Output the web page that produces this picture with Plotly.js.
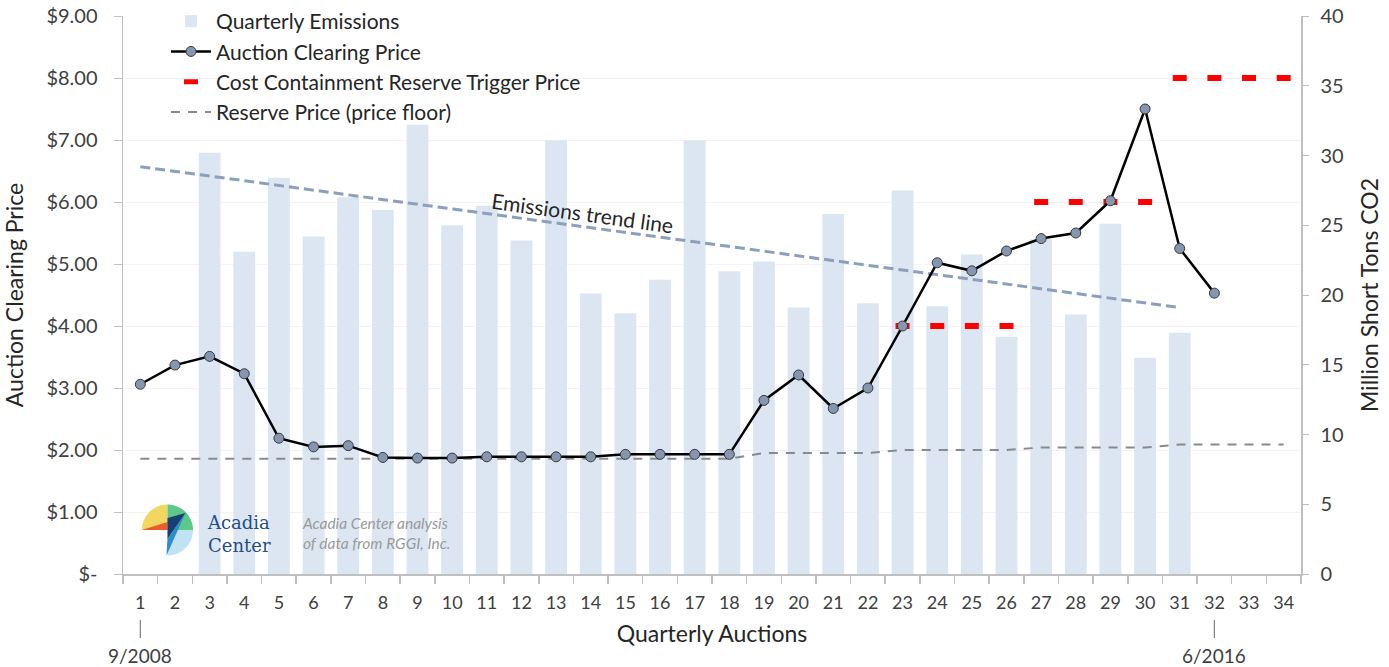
<!DOCTYPE html>
<html><head><meta charset="utf-8">
<script src="https://cdn.plot.ly/plotly-3.0.1.min.js"></script>
<style>html,body{margin:0;padding:0;background:#fff}#chart{width:1389px;height:667px}</style>
</head><body><div id="chart"></div>
<script>
// ---------------- data ----------------
const auctionNums = [1,2,3,4,5,6,7,8,9,10,11,12,13,14,15,16,17,18,19,20,21,22,23,24,25,26,27,28,29,30,31,32,33,34];
const auctionLabels = ['1','2','3','4','5','6','7','8','9','10','11','12','13','14','15','16','17','18','19','20','21','22','23','24','25','26','27','28','29','30','31','32','33','34'];

const emissionAuctions = [3,4,5,6,7,8,9,10,11,12,13,14,15,16,17,18,19,20,21,22,23,24,25,26,27,28,29,30,31];
const emissionsMt = [30.2,23.1,28.4,24.2,27.0,26.1,32.2,25.0,26.4,23.9,31.1,20.1,18.7,21.1,31.1,21.7,22.4,19.1,25.8,19.4,27.5,19.2,22.9,17.0,24.0,18.6,25.1,15.5,17.3];

const priceAuctions = [1,2,3,4,5,6,7,8,9,10,11,12,13,14,15,16,17,18,19,20,21,22,23,24,25,26,27,28,29,30,31,32];
const clearingPrice = [3.06,3.37,3.51,3.23,2.19,2.05,2.07,1.88,1.87,1.87,1.89,1.89,1.89,1.89,1.93,1.93,1.93,1.93,2.80,3.21,2.67,3.00,4.00,5.02,4.89,5.21,5.41,5.50,6.02,7.50,5.25,4.53];

const floorAuctions = [1,2,3,4,5,6,7,8,9,10,11,12,13,14,15,16,17,18,19,20,21,22,23,24,25,26,27,28,29,30,31,32,33,34];
const reservePrice = [1.86,1.86,1.86,1.86,1.86,1.86,1.86,1.86,1.86,1.86,1.86,1.86,1.86,1.86,1.86,1.86,1.86,1.86,1.95,1.95,1.95,1.95,2.00,2.00,2.00,2.00,2.04,2.04,2.04,2.04,2.09,2.09,2.09,2.09];

const ccrAuctions = [23,24,25,26,27,28,29,30,31,32,33,34];
const ccrTrigger = [4,4,4,4,6,6,6,6,8,8,8,8];

const trendAuctions = [1,31];
const trendMt = [29.2,19.1];

const priceTickVals = [0,1,2,3,4,5,6,7,8,9];
const priceTickText = ['$-','$1.00','$2.00','$3.00','$4.00','$5.00','$6.00','$7.00','$8.00','$9.00'];
const tonTickVals = [0,5,10,15,20,25,30,35,40];

// ---------------- style ----------------
const FONT = 'Lato, "Open Sans", "DejaVu Sans", sans-serif';
const AXIS = '#bfbfbf';
const TXT = '#404040';
const PL = 123, PR = 1301, PT = 16, PB = 574;   // plot area in pixels
const PW = PR - PL, PH = PB - PT;
const px = v => (v - PL) / PW;
const py = v => (PB - v) / PH;

const traces = [
  {type:'bar', name:'Quarterly Emissions', x:emissionAuctions, y:emissionsMt, yaxis:'y',
   width:0.63, marker:{color:'#dce6f2', line:{width:0}}, legendrank:1, legendgroup:'a'},
  {type:'scatter', mode:'lines', name:'Emissions trend', x:trendAuctions, y:trendMt, yaxis:'y',
   line:{color:'#8c9fbb', width:3, dash:'10px,5px'}, showlegend:false, legendgroup:'t'},
  {type:'scatter', mode:'lines', name:'Reserve Price (price floor)', x:floorAuctions, y:reservePrice, yaxis:'y2',
   line:{color:'#8a8a8a', width:2, dash:'9px,8px'}, legendrank:4, legendgroup:'d'},
  {type:'scatter', mode:'markers', name:'Cost Containment Reserve Trigger Price', x:ccrAuctions, y:ccrTrigger, yaxis:'y2',
   marker:{symbol:'line-ew', size:10, line:{color:'#ff0000', width:6}}, legendrank:3, legendgroup:'c'},
  {type:'scatter', mode:'lines+markers', name:'Auction Clearing Price', x:priceAuctions, y:clearingPrice, yaxis:'y2',
   line:{color:'#000000', width:2.5}, marker:{symbol:'circle', size:10, color:'#8496b0', line:{color:'#3a3a3a', width:1}}, legendrank:2, legendgroup:'b'}
];

// logo geometry (pixel offsets from its centre, y up)
function sector(a0, a1, r){
  let s = 'M0,0';
  const n = 28;
  for(let i=0;i<=n;i++){
    const a = (a0 + (a1-a0)*i/n)*Math.PI/180;
    s += ' L'+(r*Math.cos(a)).toFixed(2)+','+(r*Math.sin(a)).toFixed(2);
  }
  return s+' Z';
}
const R = 25.5;
const logoAnchor = {xref:'paper', yref:'paper', xsizemode:'pixel', ysizemode:'pixel', xanchor:px(167.5), yanchor:py(530), line:{width:0}, layer:'above'};
const logoShapes = [
  Object.assign({type:'path', path:sector(90,180,R), fillcolor:'#f2d660'}, logoAnchor),
  Object.assign({type:'path', path:sector(0,90,R), fillcolor:'#5cc98a'}, logoAnchor),
  Object.assign({type:'path', path:sector(-90,0,R), fillcolor:'#bfe2f4'}, logoAnchor),
  Object.assign({type:'path', path:'M-25.5,0 L0,8 L0,0 Z', fillcolor:'#ee5b2b'}, logoAnchor),
  Object.assign({type:'path', path:'M0,12 L18,17 L0,-9 Z', fillcolor:'#173f72'}, logoAnchor),
  Object.assign({type:'path', path:'M0,-9 L18,17 L-1,-25.5 Z', fillcolor:'#2c8ccc'}, logoAnchor)
];

const layout = {
  width:1389, height:667,
  margin:{l:PL, r:1389-PR, t:PT, b:667-PB, autoexpand:false},
  paper_bgcolor:'#ffffff', plot_bgcolor:'#ffffff',
  font:{family:FONT, color:TXT, size:18},
  showlegend:true,
  legend:{x:px(166), y:py(1), xanchor:'left', yanchor:'top', bgcolor:'rgba(0,0,0,0)',
          font:{size:21, color:'#262626'}, itemwidth:40, traceorder:'grouped', tracegroupgap:0},
  xaxis:{range:[0.5,34.5], tickmode:'array', tickvals:auctionNums, ticktext:auctionLabels, ticks:'',
         showline:true, linecolor:AXIS, linewidth:1.5, showgrid:false, zeroline:false,
         tickfont:{size:18, color:TXT}, ticklabelstandoff:12,
         minor:{tickmode:'array', tickvals:auctionNums.map(n=>n-0.5).concat([34.5]), ticks:'outside', ticklen:8, tickcolor:AXIS, tickwidth:1.5, showgrid:false},
         title:{text:'Quarterly Auctions', font:{size:23, color:'#262626'}, standoff:14}},
  yaxis:{side:'right', range:[0,40], tickmode:'array', tickvals:tonTickVals, ticks:'outside', ticklen:6, tickcolor:AXIS,
         showline:true, linecolor:AXIS, linewidth:1.5, showgrid:false, zeroline:false,
         tickfont:{size:20, color:TXT}, ticklabelstandoff:8,
         title:{text:'Million Short Tons CO2', font:{size:23, color:'#262626'}, standoff:19}},
  yaxis2:{overlaying:'y', side:'left', range:[0,9], tickmode:'array', tickvals:priceTickVals, ticktext:priceTickText,
          ticks:'outside', ticklen:8, tickcolor:AXIS, showline:true, linecolor:AXIS, linewidth:1.5,
          showgrid:true, gridcolor:'#f3f3f3', gridwidth:1, zeroline:false,
          tickfont:{size:20, color:TXT}, ticklabelstandoff:12,
          title:{text:'Auction Clearing Price', font:{size:23, color:'#262626'}, standoff:20}},
  shapes:[
    {type:'line', xref:'x', yref:'paper', x0:1, x1:1, y0:py(620), y1:py(638), line:{color:'#7f7f7f', width:1.2}},
    {type:'line', xref:'x', yref:'paper', x0:32, x1:32, y0:py(620), y1:py(638), line:{color:'#7f7f7f', width:1.2}}
  ].concat(logoShapes),
  annotations:[
    {xref:'x', yref:'paper', x:1, y:py(655), text:'9/2008', showarrow:false, font:{size:19, color:TXT}, xanchor:'center', yanchor:'middle'},
    {xref:'x', yref:'paper', x:32, y:py(655), text:'6/2016', showarrow:false, font:{size:19, color:TXT}, xanchor:'center', yanchor:'middle'},
    {xref:'paper', yref:'paper', x:px(582), y:py(213), text:'Emissions trend line', showarrow:false, textangle:7.8,
     font:{size:21, color:'#262626'}, xanchor:'center', yanchor:'middle'},
    {xref:'paper', yref:'paper', x:px(205), y:py(534), text:'Acadia<br>Center', showarrow:false, align:'left',
     font:{family:'"DejaVu Serif", "Liberation Serif", serif', size:18, color:'#1f4f86'}, xanchor:'left', yanchor:'middle'},
    {xref:'paper', yref:'paper', x:px(300), y:py(533), text:'<i>Acadia Center analysis<br>of data from RGGI, Inc.</i>', showarrow:false, align:'left',
     font:{size:15.5, color:'#9a9a9a'}, xanchor:'left', yanchor:'middle'}
  ]
};

Plotly.newPlot('chart', traces, layout, {displayModeBar:false, staticPlot:true});
</script>
</body></html>
